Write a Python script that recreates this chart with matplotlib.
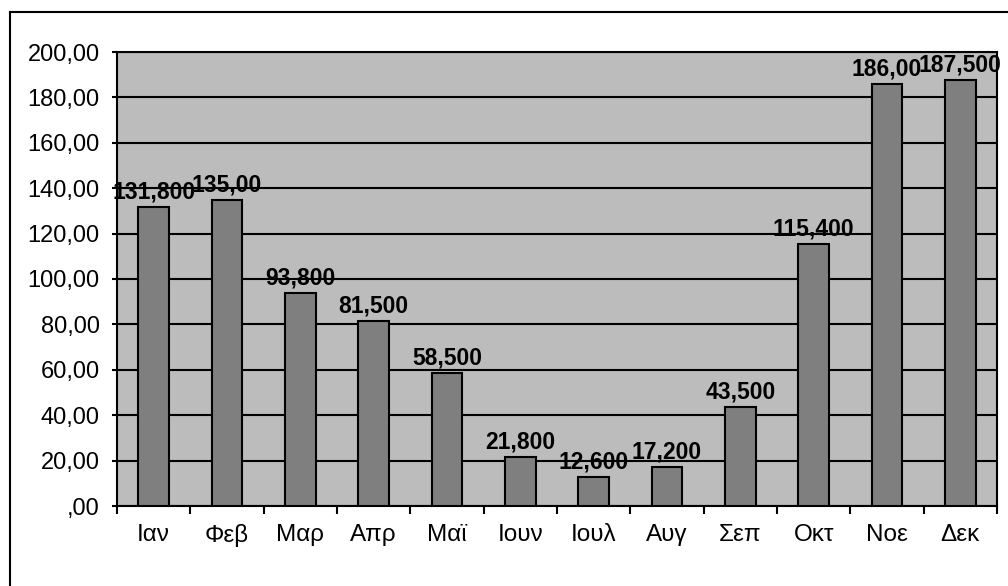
import matplotlib.pyplot as plt
from matplotlib.lines import Line2D
import numpy as np

# monthly values and their printed labels
months = ["Ιαν", "Φεβ", "Μαρ", "Απρ", "Μαϊ", "Ιουν", "Ιουλ", "Αυγ", "Σεπ", "Οκτ", "Νοε", "Δεκ"]
values = [131.8, 135.0, 93.8, 81.5, 58.5, 21.8, 12.6, 17.2, 43.5, 115.4, 186.0, 187.5]
value_labels = ["131,800", "135,00", "93,800", "81,500", "58,500", "21,800",
                "12,600", "17,200", "43,500", "115,400", "186,00", "187,500"]
y_ticks = [0, 20, 40, 60, 80, 100, 120, 140, 160, 180, 200]
y_tick_labels = [",00", "20,00", "40,00", "60,00", "80,00", "100,00",
                 "120,00", "140,00", "160,00", "180,00", "200,00"]

plt.rcParams["font.family"] = ["Liberation Sans", "DejaVu Sans"]

fig = plt.figure(figsize=(10.08, 5.86), dpi=100)
ax = fig.add_axes([117 / 1008, 1 - 506 / 586, 880 / 1008, 454 / 586])
ax.set_facecolor("#bcbcbc")

x = np.arange(len(months))
ax.bar(x, values, width=0.42, color="#7f7f7f", edgecolor="black", linewidth=1.5, zorder=3)

for xi, v, lab in zip(x, values, value_labels):
    ax.text(xi, v + 1.5, lab, ha="center", va="bottom", fontsize=16.5,
            fontweight="bold", color="black", zorder=4)

ax.set_xlim(-0.5, len(months) - 0.5)
ax.set_ylim(0, 200)
ax.set_yticks(y_ticks)
ax.set_yticklabels(y_tick_labels, fontsize=17)
ax.set_xticks(x)
ax.set_xticklabels(months, fontsize=17.5)
ax.set_xticks(np.arange(len(months) + 1) - 0.5, minor=True)
ax.tick_params(axis="x", which="major", length=0, pad=13)
ax.tick_params(axis="x", which="minor", length=6, width=1.5, direction="out")
ax.tick_params(axis="y", length=3.5, width=1.5, pad=9)

ax.grid(axis="y", color="black", linewidth=1.5, zorder=1)
ax.set_axisbelow(True)
for s in ax.spines.values():
    s.set_linewidth(1.5)
    s.set_color("black")

# outer chart frame
fig.add_artist(Line2D([10 / 1008, 10 / 1008], [0, 1 - 12 / 586], color="black", linewidth=1.5))
fig.add_artist(Line2D([10 / 1008, 1], [1 - 12 / 586, 1 - 12 / 586], color="black", linewidth=1.5))

fig.savefig("out.png", dpi=100)
